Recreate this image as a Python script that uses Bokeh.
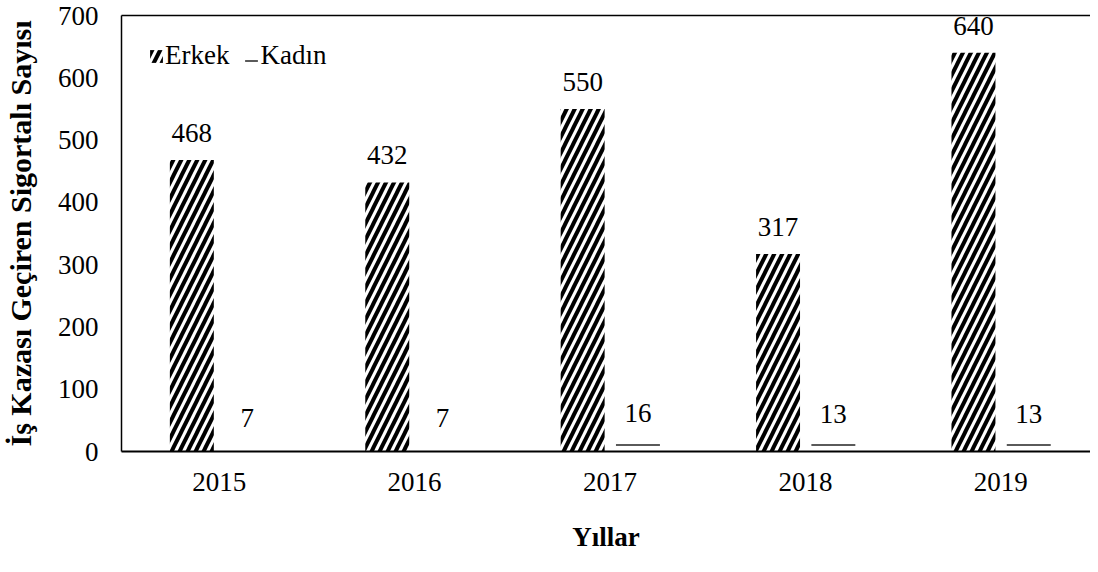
from bokeh.plotting import figure
from bokeh.models import (FixedTicker, LinearAxis, Range1d, ColumnDataSource,
                          Legend, LegendItem)
from bokeh.core.properties import value
from bokeh.embed import file_html
from bokeh.resources import INLINE

years = ["2015", "2016", "2017", "2018", "2019"]
erkek = [468, 432, 550, 317, 640]
kadin = [7, 7, 16, 13, 13]
y_ticks = [0, 100, 200, 300, 400, 500, 600, 700]

FONT = "Liberation Serif"
idx = list(range(len(years)))

p = figure(width=1090, height=564, output_backend="svg", toolbar_location=None,
           x_range=Range1d(-0.5, 4.459), y_range=Range1d(0, 700),
           min_border_left=118, min_border_right=0, min_border_top=15,
           min_border_bottom=113)
p.outline_line_color = None
p.xgrid.visible = False
p.ygrid.visible = False

src = ColumnDataSource(dict(
    xe=[i - 0.14 for i in idx], xk=[i + 0.143 for i in idx],
    erkek=erkek, kadin=kadin,
    le=[str(v) for v in erkek], lk=[str(v) for v in kadin]))

re = p.vbar(x="xe", top="erkek", width=0.225, source=src, fill_color="white",
            line_color=None, hatch_pattern="/", hatch_color="black",
            hatch_weight=4, hatch_scale=16)
rk = p.vbar(x="xk", top="kadin", width=0.225, source=src, fill_color="white",
            line_color=None, hatch_pattern="-", hatch_color="black",
            hatch_weight=1.3, hatch_scale=24)

p.text(x="xe", y="erkek", text="le", source=src, text_align="center",
       text_baseline="alphabetic", y_offset=-27, text_font=value(FONT),
       text_font_size="27px", text_color="black")
p.text(x="xk", y="kadin", text="lk", source=src, text_align="center",
       text_baseline="alphabetic", y_offset=-29, text_font=value(FONT),
       text_font_size="27px", text_color="black")

# axes
xa = p.xaxis[0]
xa.ticker = FixedTicker(ticks=idx)
xa.major_label_overrides = {i: y for i, y in zip(idx, years)}
xa.axis_label = "Yıllar"
ya = p.yaxis[0]
ya.ticker = FixedTicker(ticks=y_ticks)
ya.axis_label = "İş Kazası Geçiren Sigortalı Sayısı"
for ax in (xa, ya):
    ax.major_tick_out = 0
    ax.major_tick_in = 0
    ax.minor_tick_out = 0
    ax.minor_tick_in = 0
    ax.axis_line_color = "black"
    ax.major_label_text_font = FONT
    ax.major_label_text_font_size = "27px"
    ax.major_label_text_color = "black"
    ax.axis_label_text_font = FONT
    ax.axis_label_text_font_style = "bold"
    ax.axis_label_text_color = "black"
xa.axis_line_width = 2
ya.axis_line_width = 1.5
xa.major_label_standoff = 21
xa.axis_label_standoff = 28
xa.axis_label_text_font_size = "27px"
ya.major_label_standoff = 23
ya.axis_label_standoff = 18
ya.axis_label_text_font_size = "30px"

top = LinearAxis(ticker=FixedTicker(ticks=[]), axis_line_color="black",
                 axis_line_width=1.5, major_tick_out=0, major_tick_in=0,
                 minor_tick_out=0, minor_tick_in=0, major_label_standoff=0)
p.add_layout(top, "above")

legend = Legend(items=[LegendItem(label="Erkek", renderers=[re]),
                       LegendItem(label="Kadın", renderers=[rk])],
                orientation="horizontal", location=(27, 380),
                glyph_width=16, glyph_height=16, label_standoff=1, spacing=14,
                padding=0, margin=0, border_line_color=None,
                background_fill_alpha=0, label_text_font=FONT,
                label_text_font_size="27px", label_text_color="black")
p.add_layout(legend)

open("out.html", "w").write(file_html(p, INLINE))
